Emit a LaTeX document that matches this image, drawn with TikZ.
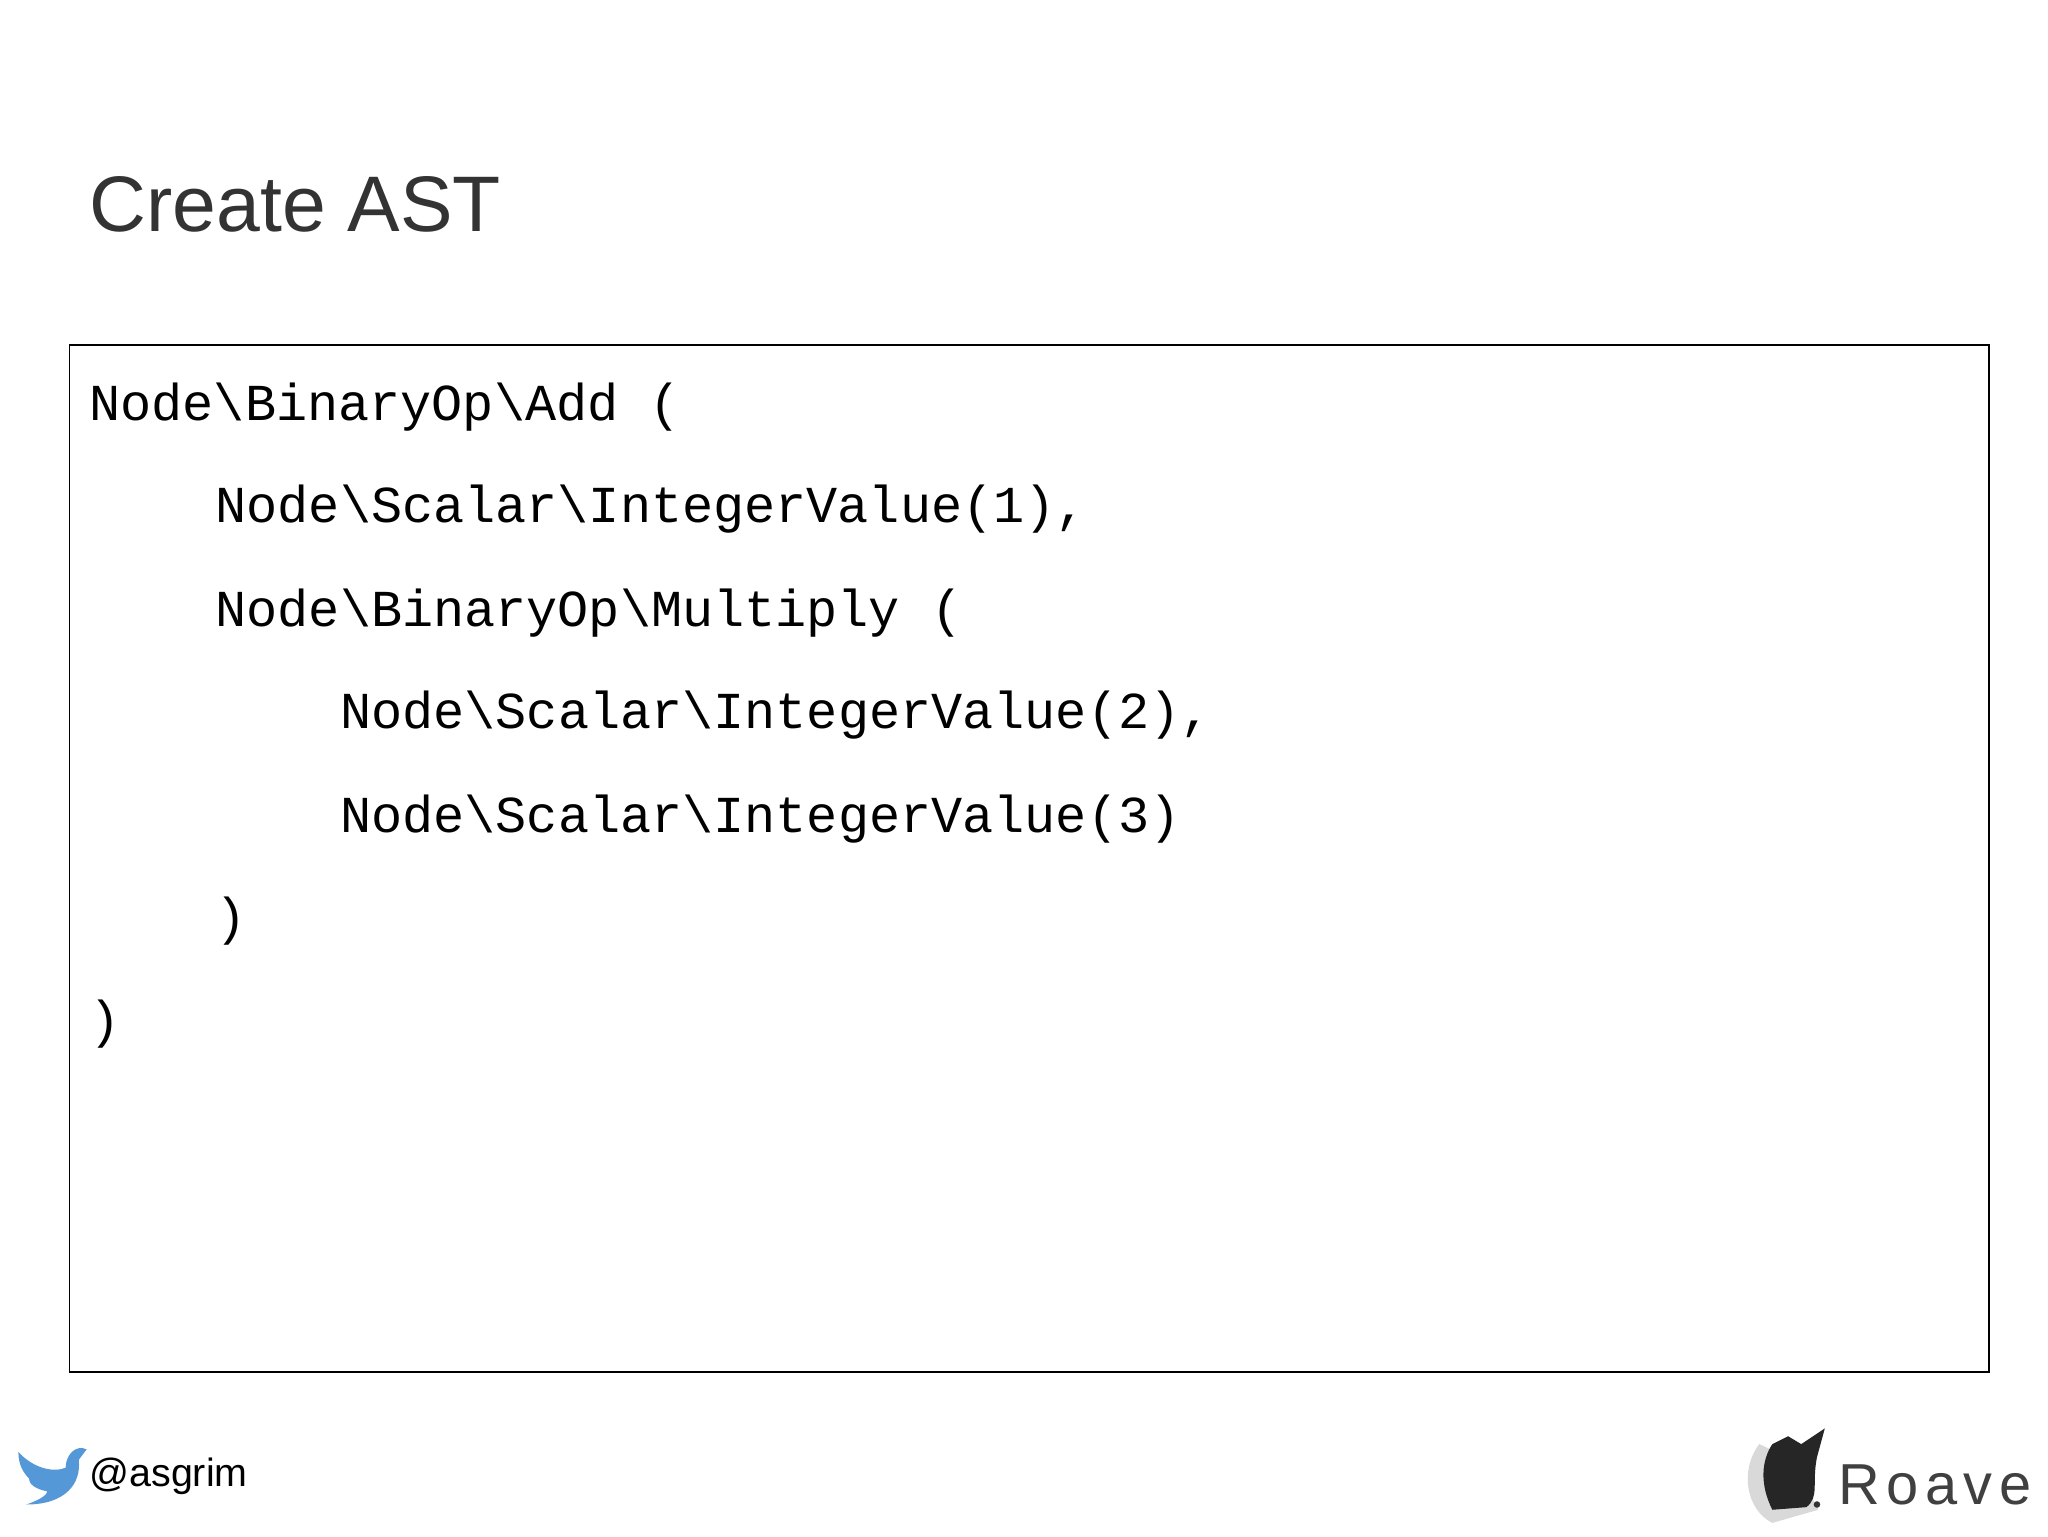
\documentclass[tikz,border=0pt]{standalone}
\usepackage{fontspec}
\setmainfont{Liberation Sans}
\newfontfamily\codefont{Liberation Mono}
\begin{document}
\begin{tikzpicture}[x=1pt,y=-1pt,
  code/.style={anchor=base west,inner sep=0pt,font=\codefont\fontsize{39.5}{40}\selectfont}]
\useasboundingbox (0,0) rectangle (1560,1170);
\fill[white] (0,0) rectangle (1560,1170);
\node[anchor=base west,inner sep=0pt,text=black!80,font=\fontsize{60}{62}\selectfont] (title) at (68,176) {Create AST};
\draw[line width=1.3pt] (53,263) rectangle (1515,1045);
\node[code] (l1) at (68,320) {Node\textbackslash BinaryOp\textbackslash Add (};
\node[code] (l2) at (164,398) {Node\textbackslash Scalar\textbackslash IntegerValue(1),};
\node[code] (l3) at (164,477) {Node\textbackslash BinaryOp\textbackslash Multiply (};
\node[code] (l4) at (259,555) {Node\textbackslash Scalar\textbackslash IntegerValue(2),};
\node[code] (l5) at (259,634) {Node\textbackslash Scalar\textbackslash IntegerValue(3)};
\node[code] (l6) at (164,712) {)};
\node[code] (l7) at (68,790) {)};
% twitter bird
\fill[cyan!60!blue!70] (14,1106) .. controls (25,1118) and (40,1122) .. (50,1118)
  .. controls (50,1108) and (58,1100) .. (66,1104) -- (60,1112)
  .. controls (62,1130) and (50,1146) .. (20,1146)
  .. controls (32,1142) and (36,1138) .. (36,1136)
  .. controls (26,1134) and (22,1130) .. (22,1126)
  .. controls (18,1122) and (14,1116) .. (14,1106) -- cycle;
\node[anchor=base west,inner sep=0pt,font=\fontsize{30}{32}\selectfont] (tw) at (68,1132) {@asgrim};
% Roave logo
\fill[black!15] (1340,1100) .. controls (1325,1120) and (1330,1150) .. (1350,1160) -- (1385,1150) .. controls (1375,1130) and (1365,1110) .. (1340,1100) -- cycle;
\fill[black!85] (1350,1100) -- (1362,1094) -- (1372,1100) -- (1390,1088) -- (1384,1110) .. controls (1380,1130) and (1386,1140) .. (1376,1148) -- (1350,1150) .. controls (1340,1130) and (1342,1112) .. (1350,1100) -- cycle;
\fill[black!80] (1384,1146) circle (2.5);
\node[anchor=base west,inner sep=0pt,text=black!75,font=\fontsize{44}{46}\selectfont] (roave) at (1400,1146) {R\hspace{5pt}o\hspace{5pt}a\hspace{5pt}v\hspace{5pt}e};
\end{tikzpicture}
\end{document}
